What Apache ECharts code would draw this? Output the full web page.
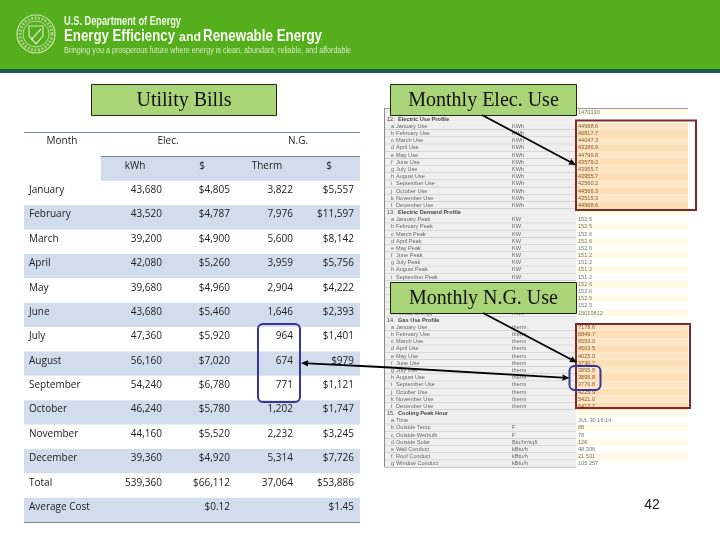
<!DOCTYPE html>
<html>
<head>
<meta charset="utf-8">
<style>html,body{margin:0;padding:0;background:#fff}#c{width:720px;height:540px}</style>
<script src="https://cdn.jsdelivr.net/npm/echarts@6/dist/echarts.min.js"></script>
</head>
<body>
<div id="c"></div>
<script>
// bill table
const months = ['January','February','March','April','May','June','July','August','September','October','November','December'];
const kwh = [43680,43520,39200,42080,39680,43680,47360,56160,54240,46240,44160,39360];
const elecCost = [4805,4787,4900,5260,4960,5460,5920,7020,6780,5780,5520,4920];
const therm = [3822,7976,5600,3959,2904,1646,964,674,771,1202,2232,5314];
const gasCost = [5557,11597,8142,5756,4222,2393,1401,979,1121,1747,3245,7726];
const totals = [539360,66112,37064,53886];
const averages = ['$0.12','$1.45'];

// screenshot on the right side
const elecUse = ['44968.6','40817.7','44047.3','43286.9','44799.8','43579.2','43955.7','43955.7','42560.2','44566.3','43515.3','44968.6'];
const elecPeak = ['152.5','152.5','152.6','152.6','152.6','151.2','151.2','151.2','151.2','152.6','152.6','152.5','152.5'];
const gasUse = ['7178.6','6849.7','6553.0','4503.5','4025.0','3730.7','3895.8','3895.8','3770.8','4225.9','5421.0','6412.7'];
const peakNames = ['Time','Outside Temp','Outside Wetbulb','Outside Solar','Wall Conduct','Roof Conduct','Window Conduct'];
const peakUnits = ['','F','F','Btu/hr/sqft','kBtu/h','kBtu/h','kBtu/h'];
const peakValues = ['JUL 30 16:14','88','78','126','48,306','21,531','105,257'];

const fmt = v => v.toLocaleString('en-US');
const usd = v => '$' + fmt(v);

// layout of the table, in px from the table's left edge
const TL = 24, TW = 336;
const colRight = [138, 206, 269, 330];
const hdrCenter = [111, 178, 243, 305];

const rowNames = ['h1','h2'].concat(months, ['Total','Average Cost']);

let cells = [];
function cell(row, x, text, align) { cells.push({row, x, text, align}); }
cell(0, 38, 'Month', 'center');
cell(0, 144, 'Elec.', 'center');
cell(0, 274, 'N.G.', 'center');
cell(1, hdrCenter[0], 'kWh', 'center');
cell(1, hdrCenter[1], '$', 'center');
cell(1, hdrCenter[2], 'Therm', 'center');
cell(1, hdrCenter[3], '$', 'center');
months.forEach((m, i) => {
  cell(i + 2, 5, m, 'left');
  cell(i + 2, colRight[0], fmt(kwh[i]), 'right');
  cell(i + 2, colRight[1], usd(elecCost[i]), 'right');
  cell(i + 2, colRight[2], fmt(therm[i]), 'right');
  cell(i + 2, colRight[3], usd(gasCost[i]), 'right');
});
cell(14, 5, 'Total', 'left');
cell(14, colRight[0], fmt(totals[0]), 'right');
cell(14, colRight[1], usd(totals[1]), 'right');
cell(14, colRight[2], fmt(totals[2]), 'right');
cell(14, colRight[3], usd(totals[3]), 'right');
cell(15, 5, 'Average Cost', 'left');
cell(15, colRight[1], averages[0], 'right');
cell(15, colRight[3], averages[1], 'right');

let bandRows = [];
rowNames.forEach((r, i) => { if (i % 2 == 1) bandRows.push(i); });

// rows of the screenshot
let sheet = [];
sheet.push({value: '1470130'});
sheet.push({num: '12.', title: 'Electric Use Profile'});
months.forEach((m, i) => sheet.push({letter: 'abcdefghijkl'[i], name: m + ' Use', unit: 'KWh', value: elecUse[i], hot: 1}));
sheet.push({num: '13.', title: 'Electric Demand Profile'});
months.forEach((m, i) => sheet.push({letter: 'abcdefghijkl'[i], name: m + ' Peak', unit: 'KW', value: elecPeak[i]}));
sheet.push({letter: 'm', name: 'Annual Peak', unit: 'KW', value: elecPeak[12]});
sheet.push({letter: 'n', name: 'Annual Energy', unit: 'KWh', value: '15010812'});
sheet.push({num: '14.', title: 'Gas Use Profile'});
months.forEach((m, i) => sheet.push({letter: 'abcdefghijkl'[i], name: m + ' Use', unit: 'therm', value: gasUse[i], hot: 2}));
sheet.push({num: '15.', title: 'Cooling Peak Hour'});
peakNames.forEach((n, i) => sheet.push({letter: 'abcdefg'[i], name: n, unit: peakUnits[i], value: peakValues[i]}));

const tblFont = '10px "Open Sans"';
const smallFont = '5.6px "Liberation Sans"';

function renderBand(params, api) {
  const c = api.coord([api.value(0), api.value(1)]);
  const h = api.size([0, 1])[1];
  const start = api.value(1) == 1 ? TL + 77 : TL;
  return {type: 'rect', shape: {x: start, y: c[1] - h / 2, width: TL + TW - start, height: h}, style: {fill: '#d1dcec'}};
}

function renderCell(params, api) {
  const d = cells[params.dataIndex];
  const c = api.coord([d.x, d.row]);
  const h = api.size([0, 1])[1];
  return {type: 'text', style: {text: d.text, x: c[0], y: c[1] - h * 0.11, font: tblFont, fill: '#222', align: d.align, verticalAlign: 'middle'}};
}

function renderSheet(params, api) {
  const d = sheet[params.dataIndex];
  const c = api.coord([0, params.dataIndex]);
  const h = api.size([0, 1])[1];
  const top = c[1] - h / 2;
  const kids = [];
  const odd = params.dataIndex % 2 == 0;
  kids.push({type: 'rect', shape: {x: 385, y: top, width: 191, height: h}, style: {fill: '#efefef'}});
  kids.push({type: 'rect', shape: {x: 577, y: top, width: 111, height: h}, style: {fill: d.hot ? (odd ? '#fde6c4' : '#fcdfb6') : (odd ? '#fefce6' : '#fff')}});
  if (d.letter) {
    kids.push({type: 'line', shape: {x1: 385, y1: top + h, x2: 576, y2: top + h}, style: {stroke: '#a8a8a8', lineWidth: 0.7}});
    kids.push({type: 'text', style: {text: d.letter, x: 391, y: c[1], font: smallFont, fill: '#666', verticalAlign: 'middle'}});
    kids.push({type: 'text', style: {text: d.name, x: 396, y: c[1], font: smallFont, fill: '#666', verticalAlign: 'middle'}});
    kids.push({type: 'text', style: {text: d.unit, x: 512, y: c[1], font: smallFont, fill: '#666', verticalAlign: 'middle'}});
  }
  if (d.title) {
    kids.push({type: 'text', style: {text: d.num, x: 387, y: c[1], font: smallFont, fill: '#444', verticalAlign: 'middle'}});
    kids.push({type: 'text', style: {text: d.title, x: 398, y: c[1], font: 'bold ' + smallFont, fill: '#444', verticalAlign: 'middle'}});
  }
  if (d.value) {
    kids.push({type: 'text', style: {text: d.value, x: 578, y: c[1], font: smallFont, fill: d.hot ? '#8a5a3a' : '#777', verticalAlign: 'middle'}});
  }
  return {type: 'group', children: kids};
}

function box(x, y, w, h, text) {
  return [
    {type: 'rect', z: 20, shape: {x, y, width: w, height: h}, style: {fill: '#a9d578', stroke: '#1c2a10', lineWidth: 1}},
    {type: 'text', z: 21, style: {text, x: x + w / 2, y: y + h / 2 + 0.5, font: '20px "Liberation Serif"', fill: '#111', align: 'center', verticalAlign: 'middle'}}
  ];
}

function arrow(x1, y1, x2, y2, z) {
  const a = Math.atan2(y2 - y1, x2 - x1), L = 7, W = 3.2;
  const bx = x2 - L * Math.cos(a), by = y2 - L * Math.sin(a);
  const nx = -Math.sin(a) * W, ny = Math.cos(a) * W;
  return [
    {type: 'line', z: z || 22, shape: {x1, y1, x2: bx, y2: by}, style: {stroke: '#000', lineWidth: 1.8}},
    {type: 'polygon', z: z || 22, shape: {points: [[x2, y2], [bx + nx, by + ny], [bx - nx, by - ny]]}, style: {fill: '#000'}}
  ];
}

function frame(x, y, w, h, color, r) {
  return {type: 'rect', z: 15, shape: {x, y, width: w, height: h, r: r || 0}, style: {fill: 'none', stroke: color, lineWidth: 2}};
}

// the banner face is condensed, so squeeze to the measured width
const measure = document.createElement('canvas').getContext('2d');
function fitText(text, x, y, w, font, fill) {
  measure.font = font;
  return {type: 'text', x, y, scaleX: w / measure.measureText(text).width,
    style: {text, x: 0, y: 0, font, fill, verticalAlign: 'middle'}};
}

const white = '#e6f2da';
let graphics = [
  // banner
  {type: 'rect', shape: {x: 0, y: 0, width: 720, height: 69}, style: {fill: '#55ae1b'}},
  {type: 'rect', shape: {x: 0, y: 69, width: 720, height: 4}, style: {fill: '#1b5a50'}},
  // seal
  {type: 'circle', shape: {cx: 36, cy: 34, r: 19}, style: {fill: 'none', stroke: white, lineWidth: 1.2, opacity: 0.8}},
  {type: 'circle', shape: {cx: 36, cy: 34, r: 16}, style: {fill: 'none', stroke: white, lineWidth: 3, lineDash: [2, 1.5], opacity: 0.55}},
  {type: 'circle', shape: {cx: 36, cy: 34, r: 13}, style: {fill: 'none', stroke: white, lineWidth: 1, opacity: 0.7}},
  {type: 'polygon', shape: {points: [[29, 26], [43, 26], [43, 36], [36, 44], [29, 36]]}, style: {fill: 'none', stroke: white, lineWidth: 1.2, opacity: 0.85}},
  {type: 'line', shape: {x1: 31, y1: 40, x2: 41, y2: 29}, style: {stroke: white, lineWidth: 1.2, opacity: 0.85}},
  fitText('U.S. Department of Energy', 64, 22, 117, 'bold 12px "Liberation Sans"', '#eef6e6'),
  fitText('Energy Efficiency', 64, 36, 111, 'bold 16.5px "Liberation Sans"', '#f6faf1'),
  fitText('and', 179, 37.5, 22, 'bold 12.5px "Liberation Sans"', '#f6faf1'),
  fitText('Renewable Energy', 203, 36, 119, 'bold 16.5px "Liberation Sans"', '#f6faf1'),
  fitText('Bringing you a prosperous future where energy is clean, abundant, reliable, and affordable', 64, 51, 287, '8.5px "Liberation Sans"', '#d5ebc3'),
  // table rules
  {type: 'line', z: 5, shape: {x1: TL, y1: 132.5, x2: TL + TW, y2: 132.5}, style: {stroke: '#74879c', lineWidth: 1}},
  {type: 'line', z: 5, shape: {x1: TL + 77, y1: 156.5, x2: TL + TW, y2: 156.5}, style: {stroke: '#74879c', lineWidth: 1}},
  {type: 'line', z: 5, shape: {x1: TL, y1: 522.5, x2: TL + TW, y2: 522.5}, style: {stroke: '#74879c', lineWidth: 1}},
  // sheet edges
  {type: 'line', z: 5, shape: {x1: 384.5, y1: 108, x2: 384.5, y2: 467}, style: {stroke: '#8a8a8a', lineWidth: 1}},
  {type: 'line', z: 5, shape: {x1: 385, y1: 108.5, x2: 688, y2: 108.5}, style: {stroke: '#999', lineWidth: 1}},
  // highlights
  frame(576, 120.5, 120, 89.5, '#7d2a2a'),
  frame(576, 324, 114, 84, '#7d2a2a'),
  frame(258, 324, 42, 78, '#35359a', 5),
  frame(569.5, 366, 31, 24, '#35359a', 5),
  {type: 'text', z: 5, style: {text: '42', x: 652, y: 505, font: '14px "Liberation Sans"', fill: '#222', align: 'center', verticalAlign: 'middle'}}
];
graphics = graphics.concat(
  box(91.5, 84.5, 185, 31, 'Utility Bills'),
  box(390.5, 84.5, 186, 31, 'Monthly Elec. Use'),
  box(390.5, 282.5, 186, 31, 'Monthly N.G. Use'),
  arrow(482, 115, 576, 165),
  arrow(483, 313, 577, 362.5),
  arrow(381, 367, 301, 363),
  arrow(381, 367, 569.5, 378)
);

const option = {
  animation: false,
  backgroundColor: '#fff',
  textStyle: {fontFamily: 'Open Sans'},
  grid: [
    {left: TL, top: 132, width: TW, height: 390},
    {left: 385, top: 108.4, width: 303, height: 359}
  ],
  xAxis: [
    {gridIndex: 0, type: 'value', min: 0, max: 336, show: false},
    {gridIndex: 1, type: 'value', min: 0, max: 303, show: false}
  ],
  yAxis: [
    {gridIndex: 0, type: 'category', inverse: true, data: rowNames, show: false},
    {gridIndex: 1, type: 'category', inverse: true, data: sheet.map((d, i) => i), show: false}
  ],
  series: [
    {type: 'custom', xAxisIndex: 0, yAxisIndex: 0, z: 1, renderItem: renderBand, data: bandRows.map(r => [0, r]), silent: true},
    {type: 'custom', xAxisIndex: 0, yAxisIndex: 0, z: 2, renderItem: renderCell, data: cells.map(c => [c.x, c.row]), silent: true},
    {type: 'custom', xAxisIndex: 1, yAxisIndex: 1, z: 1, renderItem: renderSheet, data: sheet.map((d, i) => [0, i]), silent: true}
  ],
  graphic: {elements: graphics}
};

const chart = echarts.init(document.getElementById('c'), null, {renderer: 'canvas'});
chart.setOption(option);
</script>
</body>
</html>
